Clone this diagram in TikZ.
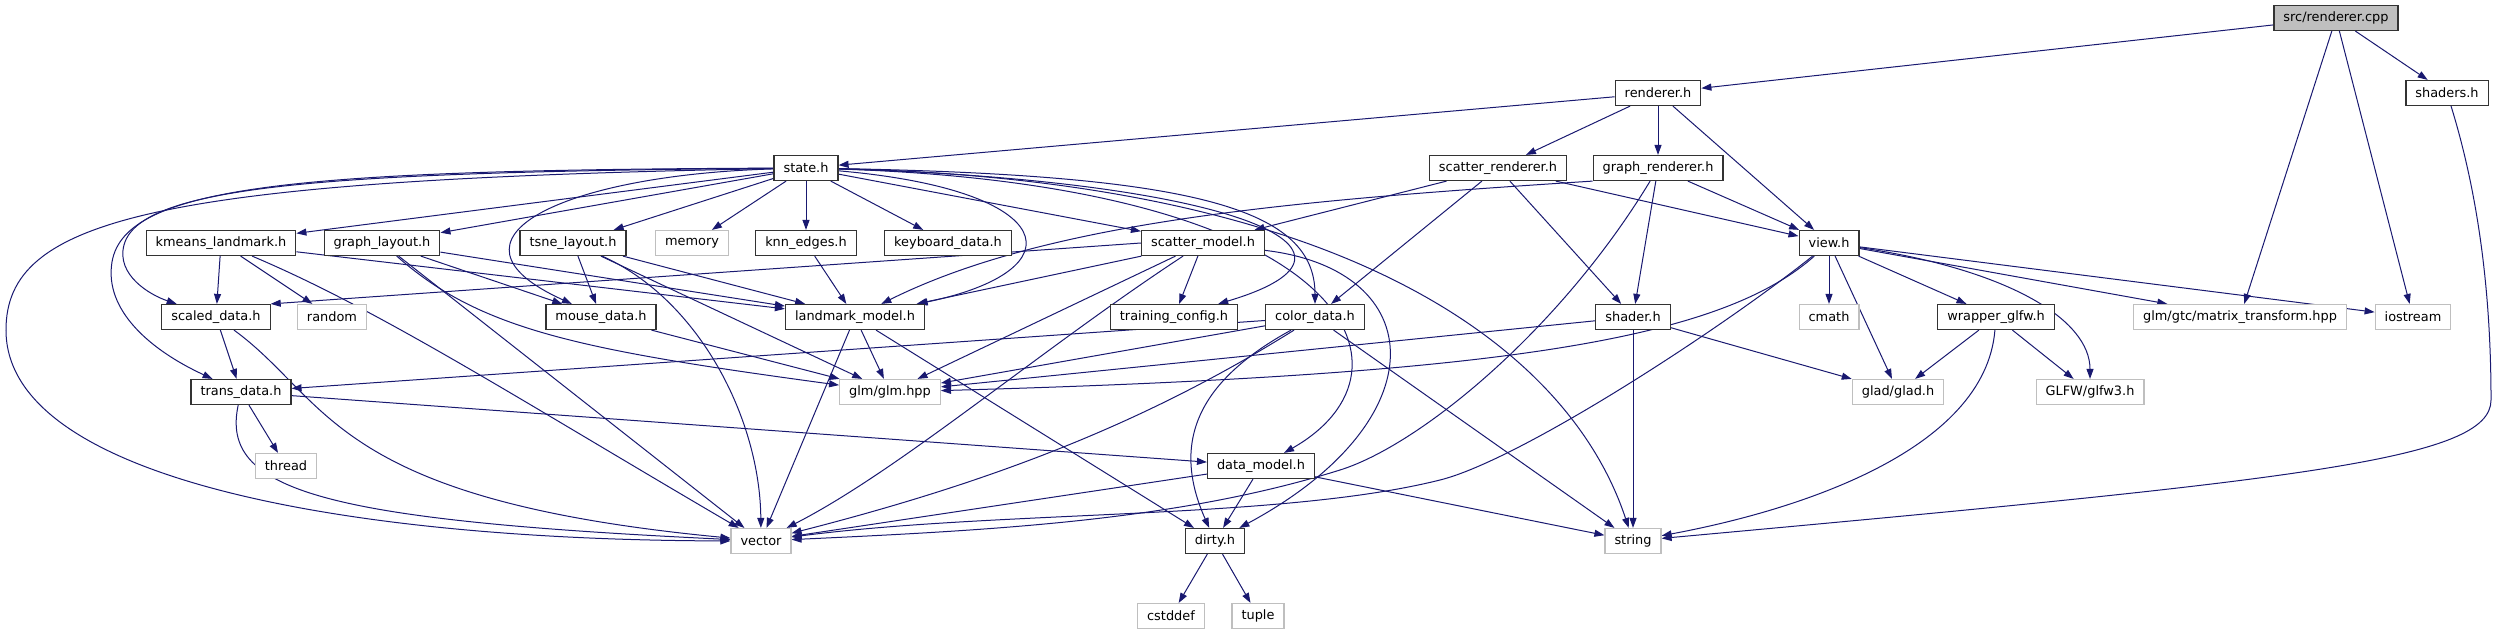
\documentclass[tikz,border=0pt]{standalone}
\usepackage{fontspec}
\setmainfont{DejaVu Sans}
\usepackage{xcolor}
\usetikzlibrary{arrows.meta,backgrounds}
\definecolor{edgeblue}{HTML}{191970}
\definecolor{sysgray}{HTML}{BFBFBF}
\tikzset{
    hdr/.style={rectangle, draw=black!80, line width=1.2pt, fill=white, minimum height=25pt, inner xsep=9.5pt, inner ysep=0pt, font=\fontsize{12.9}{14}\selectfont},
    syshdr/.style={hdr, draw=sysgray},
    rootfile/.style={hdr, fill=sysgray},
    dep/.style={draw=edgeblue, line width=1pt, -{Triangle[length=10pt,width=7pt]}}
}

\begin{document}
\begin{tikzpicture}[x=1pt, y=-1pt]
    \useasboundingbox (0,0) rectangle (2496,635);

    \node[rootfile] (root) at (2336,18) {src/renderer.cpp};
    \node[hdr] (renderer) at (1658,93) {renderer.h};
    \node[hdr] (shaders) at (2447,93) {shaders.h};
    \node[hdr] (state) at (806,168) {state.h};
    \node[hdr] (scatrend) at (1498,168) {scatter\_renderer.h};
    \node[hdr] (graphrend) at (1658,168) {graph\_renderer.h};
    \node[hdr] (kmeans) at (221,243) {kmeans\_landmark.h};
    \node[hdr] (graphlay) at (382,243) {graph\_layout.h};
    \node[hdr] (tsne) at (573,243) {tsne\_layout.h};
    \node[syshdr] (memory) at (692,243) {memory};
    \node[hdr] (knn) at (806,243) {knn\_edges.h};
    \node[hdr] (keyboard) at (948,243) {keyboard\_data.h};
    \node[hdr] (scatmodel) at (1203,243) {scatter\_model.h};
    \node[hdr] (view) at (1829,243) {view.h};
    \node[hdr] (scaled) at (216,317) {scaled\_data.h};
    \node[syshdr] (random) at (332,317) {random};
    \node[hdr] (mouse) at (601,317) {mouse\_data.h};
    \node[hdr] (landmark) at (855,317) {landmark\_model.h};
    \node[hdr] (training) at (1174,317) {training\_config.h};
    \node[hdr] (color) at (1315,317) {color\_data.h};
    \node[hdr] (shader) at (1633,317) {shader.h};
    \node[syshdr] (cmath) at (1829,317) {cmath};
    \node[hdr] (wrapper) at (1996,317) {wrapper\_glfw.h};
    \node[syshdr] (gtc) at (2240,317) {glm/gtc/matrix\_transform.hpp};
    \node[syshdr] (iostream) at (2413,317) {iostream};
    \node[hdr] (trans) at (241,392) {trans\_data.h};
    \node[syshdr] (glm) at (890,392) {glm/glm.hpp};
    \node[syshdr] (glad) at (1898,392) {glad/glad.h};
    \node[syshdr] (glfw) at (2090,392) {GLFW/glfw3.h};
    \node[syshdr] (thread) at (286,466) {thread};
    \node[hdr] (datamodel) at (1261,466) {data\_model.h};
    \node[syshdr] (vector) at (761,541) {vector};
    \node[hdr] (dirty) at (1215,541) {dirty.h};
    \node[syshdr] (string) at (1633,541) {string};
    \node[syshdr] (cstddef) at (1171,616) {cstddef};
    \node[syshdr] (tuple) at (1258,616) {tuple};
    \coordinate (vbend) at (6,330);
    \coordinate (sbend) at (124,245);
    \coordinate (tbend) at (112,262);
    \coordinate (shbend) at (2491,400);
    \coordinate (gvbend) at (1340,470);
    \coordinate (vvbend) at (1440,480);

    \begin{scope}[on background layer]
    % top of the graph
    \draw[dep] (root) -- (renderer);
    \draw[dep] (root) -- (gtc);
    \draw[dep] (root) -- (iostream);
    \draw[dep] (root) -- (shaders);
    \draw[dep] (shaders) .. controls (2480,200) and (2491,300) .. (shbend)
        .. controls (2491,460) and (2300,480) .. (string);
    \draw[dep] (renderer) -- (state);
    \draw[dep] (renderer) -- (scatrend);
    \draw[dep] (renderer) -- (graphrend);
    \draw[dep] (renderer) -- (view);
    \draw[dep] (scatrend) -- (scatmodel);
    \draw[dep] (scatrend) -- (color);
    \draw[dep] (scatrend) -- (shader);
    \draw[dep] (scatrend) -- (view);
    \draw[dep] (graphrend.south west) .. controls (1300,200) and (1050,220) .. (landmark);
    \draw[dep] (graphrend) -- (view);
    \draw[dep] (graphrend) -- (shader);
    \draw[dep] (graphrend) .. controls (1560,330) and (1420,445) .. (gvbend)
        .. controls (1180,520) and (1000,530) .. (vector);

    % state.h
    \draw[dep] (state) -- (kmeans);
    \draw[dep] (state) -- (graphlay);
    \draw[dep] (state) -- (tsne);
    \draw[dep] (state) -- (memory);
    \draw[dep] (state) -- (knn);
    \draw[dep] (state) -- (keyboard);
    \draw[dep] (state) -- (scatmodel);
    \draw[dep] (state) .. controls (1060,190) and (1080,270) .. (landmark);
    \draw[dep] (state) .. controls (1230,180) and (1400,250) .. (training);
    \draw[dep] (state) .. controls (1200,175) and (1315,210) .. (color);
    \draw[dep] (state) .. controls (1350,185) and (1430,370) .. (datamodel);
    \draw[dep] (state) .. controls (1350,180) and (1570,350) .. (string);
    \draw[dep] (state) .. controls (330,172) and (140,185) .. (sbend)
        .. controls (116,275) and (150,295) .. (scaled);
    \draw[dep] (state) .. controls (300,170) and (125,185) .. (tbend)
        .. controls (104,310) and (150,350) .. (trans);
    \draw[dep] (state) .. controls (560,175) and (430,240) .. (mouse);
    \draw[dep] (state) .. controls (150,180) and (6,220) .. (vbend)
        .. controls (6,480) and (350,540) .. (vector);

    % second row
    \draw[dep] (kmeans) -- (scaled);
    \draw[dep] (kmeans) -- (random);
    \draw[dep] (kmeans) -- (landmark);
    \draw[dep] (kmeans) .. controls (380,310) and (520,400) .. (vector);
    \draw[dep] (graphlay) -- (landmark);
    \draw[dep] (graphlay) -- (mouse);
    \draw[dep] (graphlay) -- (vector);
    \draw[dep] (graphlay) .. controls (480,330) and (580,350) .. (glm);
    \draw[dep] (tsne) -- (mouse);
    \draw[dep] (tsne) -- (landmark);
    \draw[dep] (tsne) -- (glm);
    \draw[dep] (tsne) .. controls (700,300) and (760,420) .. (vector);
    \draw[dep] (knn) -- (landmark);
    \draw[dep] (scatmodel.west) -- (scaled.north east);
    \draw[dep] (scatmodel) -- (landmark);
    \draw[dep] (scatmodel) -- (training);
    \draw[dep] (scatmodel) -- (glm);
    \draw[dep] (scatmodel) .. controls (1040,350) and (900,470) .. (vector);
    \draw[dep] (scatmodel) .. controls (1430,270) and (1440,420) .. (dirty);
    \draw[dep] (view) .. controls (1720,340) and (1500,375) .. (glm);
    \draw[dep] (view) .. controls (1720,330) and (1520,460) .. (vvbend)
        .. controls (1280,520) and (1000,510) .. (vector);
    \draw[dep] (view) -- (cmath);
    \draw[dep] (view) -- (glad);
    \draw[dep] (view) -- (wrapper);
    \draw[dep] (view) -- (gtc);
    \draw[dep] (view) -- (iostream);
    \draw[dep] (view) .. controls (2010,270) and (2090,320) .. (glfw);

    % third row and below
    \draw[dep] (landmark) -- (glm);
    \draw[dep] (landmark) -- (vector);
    \draw[dep] (landmark) -- (dirty);
    \draw[dep] (mouse) -- (glm);
    \draw[dep] (scaled) -- (trans);
    \draw[dep] (scaled) .. controls (330,400) and (330,500) .. (vector);
    \draw[dep] (color) -- (trans);
    \draw[dep] (color) -- (glm);
    \draw[dep] (color) .. controls (1150,420) and (1000,480) .. (vector);
    \draw[dep] (color) .. controls (1200,380) and (1170,440) .. (dirty);
    \draw[dep] (color) -- (string);
    \draw[dep] (shader) -- (glm);
    \draw[dep] (shader) -- (glad);
    \draw[dep] (shader) -- (string);
    \draw[dep] (wrapper) -- (glad);
    \draw[dep] (wrapper) -- (glfw);
    \draw[dep] (wrapper) .. controls (1985,450) and (1800,510) .. (string);
    \draw[dep] (trans) -- (thread);
    \draw[dep] (trans) .. controls (220,490) and (320,520) .. (vector);
    \draw[dep] (trans) -- (datamodel);
    \draw[dep] (datamodel) -- (vector);
    \draw[dep] (datamodel) -- (dirty);
    \draw[dep] (datamodel) -- (string);
    \draw[dep] (dirty) -- (cstddef);
    \draw[dep] (dirty) -- (tuple);
    \end{scope}

\end{tikzpicture}
\end{document}
